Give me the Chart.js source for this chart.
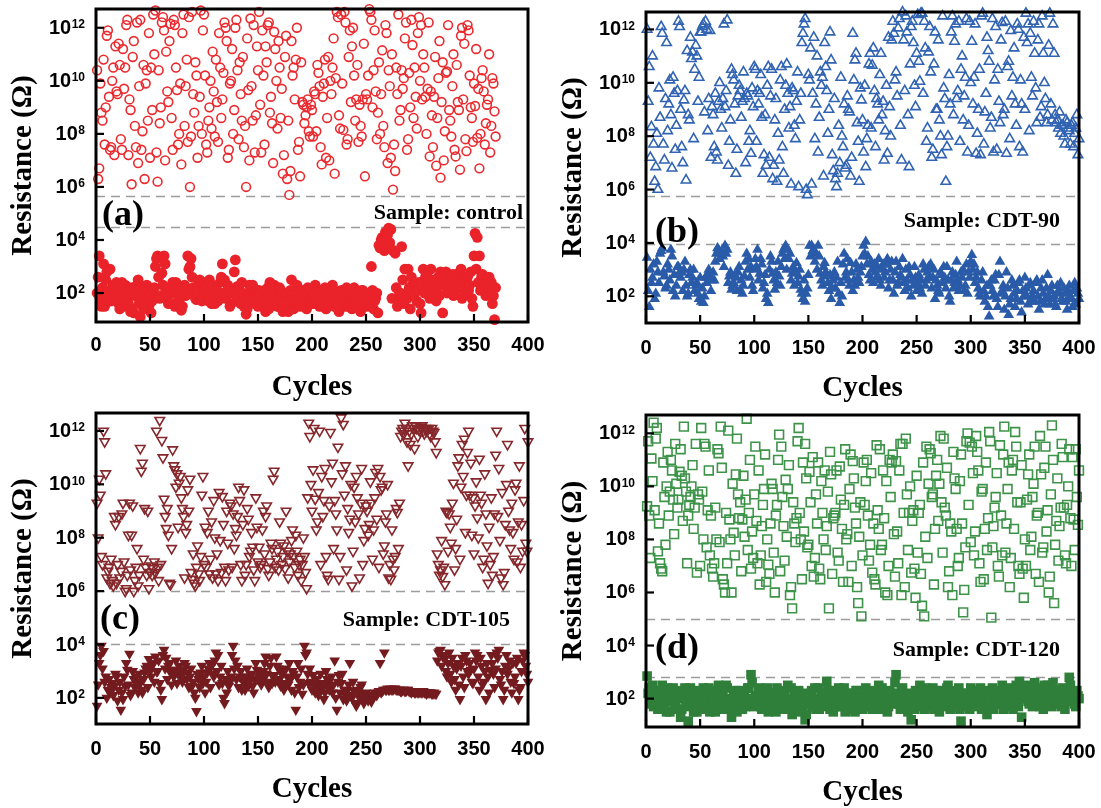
<!DOCTYPE html>
<html>
<head>
<meta charset="utf-8">
<script src="https://cdn.jsdelivr.net/npm/chart.js@4.4.1/dist/chart.umd.min.js"></script>
<style>
  html, body { margin: 0; padding: 0; background: #fff; }
  #wrap { position: relative; width: 1101px; height: 808px; }
  canvas { position: absolute; }
</style>
</head>
<body>
<div id="wrap">
  <canvas id="pa" width="550" height="404" style="left:0;top:0"></canvas>
  <canvas id="pb" width="550" height="404" style="left:551px;top:0"></canvas>
  <canvas id="pc" width="550" height="404" style="left:0;top:404px"></canvas>
  <canvas id="pd" width="550" height="404" style="left:551px;top:404px"></canvas>
</div>
<script>
/* Resistencia HRS / LRS frente a ciclos, cuatro muestras */
const cycleTicks = [0, 50, 100, 150, 200, 250, 300, 350, 400];
const decadeTicks = [2, 4, 6, 8, 10, 12];

// log10(R): ciclos impares (1, 3, 5, ...) y pares (2, 4, 6, ...)
const hrsControlOdd = [
  10.4, 6.7, 8.8, 10.8, 9.0, 11.9, 7.4, 10.0, 7.2, 9.6, 11.4, 7.8, 11.2, 10.5, 12.3, 9.3, 6.1, 11.5, 7.5, 6.9, 12.3, 8.1, 6.3, 10.4, 11.8,
  10.5, 12.5, 12.65, 6.2, 8.4, 12.2, 11.9, 11.1, 9.2, 12.15, 7.4, 12.1, 9.65, 8.0, 6.85, 12.5, 9.8, 7.7, 6.0, 12.6, 8.8, 10.2, 8.3, 12.65, 11.9,
  10.2, 7.3, 9.0, 8.2, 9.6, 10.8, 7.7, 10.5, 9.3, 12.2, 11.5, 7.4, 10.0, 8.0, 12.0, 10.4, 10.7, 8.5, 7.5, 6.0, 9.65, 12.35, 8.5, 7.3, 11.3,
  12.6, 7.3, 10.2, 11.3, 12.1, 8.8, 8.4, 11.85, 10.0, 11.5, 8.6, 6.5, 10.9, 6.3, 5.7, 11.5, 10.5, 10.8, 7.4, 6.4, 9.2, 8.4, 9.0, 8.1, 9.1,
  7.9, 9.5, 10.6, 9.8, 6.85, 9.9, 7.1, 10.9, 10.0, 10.5, 6.5, 12.6, 8.7, 12.5, 8.15, 12.2, 7.8, 11.9, 11.3, 10.2, 9.3, 7.7, 8.3, 9.3, 6.4,
  9.3, 12.7, 12.3, 10.4, 9.6, 8.8, 8.0, 11.15, 7.5, 11.8, 10.4, 7.1, 5.9, 6.6, 9.5, 8.5, 10.4, 10.1, 12.2, 7.8, 9.0, 11.35, 10.5, 8.2, 12.4,
  12.1, 11.0, 9.4, 9.7, 7.15, 8.7, 9.4, 6.8, 10.1, 6.35, 10.7, 8.1, 10.35, 8.9, 7.9, 11.0, 7.15, 9.2, 6.65, 12.0, 11.4, 7.35, 11.9, 9.0, 7.7,
  9.05, 7.85, 6.7, 10.1, 9.6, 8.4, 9.3, 7.3, 10.1, 8.85,
];
const hrsControlEven = [
  6.3, 9.9, 8.5, 7.6, 11.7, 9.4, 7.5, 10.5, 11.3, 9.5, 10.6, 7.4, 9.7, 12.1, 7.2, 8.9, 10.9, 8.3, 12.2, 9.8, 7.4, 10.6, 9.9, 8.5, 7.1,
  8.9, 11.0, 7.3, 10.4, 9.0, 12.4, 7.0, 9.6, 11.5, 8.6, 12.3, 10.5, 7.6, 9.9, 11.8, 8.3, 10.8, 12.4, 7.9, 9.5, 10.7, 7.1, 9.4, 8.0, 12.5,
  7.6, 8.5, 10.0, 11.1, 7.9, 9.2, 11.8, 8.6, 10.3, 12.0, 7.1, 9.9, 11.2, 8.9, 12.3, 7.8, 9.5, 10.9, 8.3, 11.6, 7.0, 9.8, 12.1, 8.7, 10.4,
  9.1, 11.9, 7.6, 10.7, 12.2, 9.4, 6.9, 11.2, 8.2, 10.5, 9.7, 7.2, 11.7, 8.5, 6.6, 10.2, 9.3, 12.0, 7.7, 10.7, 9.1, 8.7, 9.3, 7.9, 8.9,
  9.6, 8.1, 10.3, 7.5, 9.4, 10.8, 8.6, 7.0, 9.5, 11.6, 10.1, 12.4, 8.2, 9.9, 12.6, 7.6, 10.9, 9.2, 12.0, 8.5, 10.6, 9.1, 7.9, 11.4, 9.5,
  10.2, 12.6, 9.0, 11.9, 7.8, 10.7, 9.5, 8.3, 12.1, 6.9, 9.8, 11.0, 7.6, 10.5, 12.5, 8.9, 9.7, 11.6, 7.4, 10.3, 12.3, 8.6, 9.4, 11.8, 10.0,
  9.3, 10.5, 8.0, 12.2, 9.6, 7.5, 10.9, 8.6, 11.5, 9.2, 7.0, 10.3, 12.1, 8.5, 9.8, 7.4, 10.6, 8.9, 11.7, 9.3, 7.8, 12.1, 10.2, 8.6, 9.9,
  11.2, 9.7, 8.0, 10.4, 7.6, 9.1, 11.0, 8.3, 9.9, 7.9,
];
const lrsControlOdd = [
  2.0, 3.4, 1.5, 3.1, 2.5, 1.75, 2.9, 2.2, 1.9, 2.4, 1.6, 2.0, 1.5, 2.3, 1.8, 2.2, 1.4, 1.25, 1.9, 2.5, 1.1, 2.1, 1.7, 2.3, 1.5,
  1.25, 2.0, 3.0, 3.4, 1.8, 2.75, 3.4, 2.1, 1.6, 2.0, 2.4, 1.5, 2.2, 1.7, 1.35, 2.1, 1.9, 3.4, 3.0, 2.6, 2.1, 1.75, 2.3, 1.9, 2.4,
  1.8, 2.0, 2.5, 1.6, 1.9, 2.2, 1.7, 2.4, 3.1, 2.5, 1.9, 2.2, 1.6, 2.0, 3.25, 2.25, 1.7, 2.4, 1.5, 1.2, 2.0, 1.8, 2.3, 1.6, 2.1,
  2.1, 1.8, 1.5, 1.3, 2.2, 2.4, 1.6, 2.3, 1.9, 1.5, 2.1, 1.3, 1.8, 2.0, 1.6, 2.5, 1.4, 1.9, 2.2, 1.5, 1.7, 2.1, 1.4, 1.8, 2.0,
  1.6, 2.3, 1.9, 1.5, 2.1, 1.7, 1.4, 2.0, 1.8, 2.3, 1.5, 1.9, 1.3, 2.1, 1.7, 1.5, 2.0, 1.8, 1.4, 2.2, 1.6, 1.9, 1.3, 2.1, 1.7,
  1.5, 2.0, 3.0, 1.4, 1.8, 1.25, 3.7, 4.1, 3.6, 4.25, 4.45, 4.4, 3.6, 3.5, 1.5, 2.0, 3.75, 1.6, 1.9, 2.9, 1.4, 2.3, 2.0, 1.7, 2.4,
  1.25, 2.9, 2.6, 2.1, 1.8, 2.5, 2.3, 1.7, 2.6, 2.8, 1.25, 2.4, 2.0, 2.6, 2.2, 1.9, 2.7, 2.3, 2.5, 1.8, 2.6, 2.3, 2.1, 2.8, 1.5,
  4.25, 4.1, 3.4, 2.6, 2.3, 1.9, 2.5, 2.2, 1.6, 1.0,
];
const lrsControlEven = [
  2.6, 1.8, 2.2, 1.5, 2.8, 2.0, 1.7, 2.3, 1.9, 2.1, 1.4, 2.4, 1.8, 2.0, 1.6, 1.3, 2.2, 1.9, 2.3, 1.6, 2.0, 1.4, 2.2, 1.8, 2.0,
  1.7, 2.2, 3.3, 2.6, 1.9, 2.3, 3.1, 1.8, 2.2, 1.6, 2.0, 2.4, 1.9, 2.1, 1.5, 2.3, 2.0, 2.9, 3.3, 2.2, 1.8, 2.0, 2.5, 1.7, 2.1,
  2.2, 1.7, 2.0, 2.3, 1.6, 2.1, 1.9, 2.6, 2.0, 1.8, 2.3, 1.5, 2.1, 2.8, 1.9, 2.2, 1.6, 2.0, 1.8, 1.4, 2.3, 1.7, 2.0, 1.9, 1.5,
  1.9, 1.6, 2.1, 1.8, 1.4, 2.0, 2.3, 1.7, 1.5, 2.2, 1.8, 1.6, 2.0, 1.3, 2.1, 1.9, 1.7, 2.3, 1.6, 1.9, 2.0, 1.5, 2.2, 1.7, 1.6,
  1.9, 1.7, 2.0, 1.8, 1.5, 2.2, 1.9, 1.6, 2.1, 1.7, 1.9, 1.4, 2.0, 1.8, 1.6, 2.2, 1.5, 1.9, 1.7, 2.0, 1.8, 1.5, 2.1, 1.9, 1.6,
  1.8, 1.6, 2.1, 1.7, 2.0, 3.8, 4.0, 3.65, 4.3, 4.2, 3.9, 1.8, 3.6, 2.2, 1.7, 2.0, 2.5, 2.9, 1.8, 2.2, 2.6, 1.9, 2.3, 2.1, 1.6,
  2.3, 2.0, 2.7, 2.4, 2.9, 2.1, 2.5, 2.2, 1.9, 2.6, 2.3, 2.8, 2.1, 2.4, 2.7, 2.0, 2.5, 2.2, 2.9, 2.4, 2.0, 2.6, 2.3, 1.8, 3.4,
  2.9, 2.4, 2.1, 2.7, 2.3, 2.0, 2.6, 2.4, 1.9, 2.2,
];

const hrsCdt90Odd = [
  12.0, 10.6, 8.35, 7.7, 6.85, 6.0, 8.7, 11.85, 7.1, 11.5, 9.2, 8.8, 10.2, 7.5, 9.7, 12.1, 7.6, 9.35, 6.35, 8.8, 11.7, 11.15, 10.5, 11.0, 10.2,
  11.9, 12.2, 12.3, 8.2, 11.95, 9.1, 7.6, 7.4, 9.3, 9.0, 9.4, 9.1, 12.35, 7.8, 10.5, 10.1, 6.6, 9.5, 9.7, 9.3, 9.4, 9.6, 7.8, 7.35, 9.1,
  10.5, 9.7, 9.6, 8.7, 7.3, 6.9, 10.6, 9.5, 6.4, 8.6, 6.3, 7.1, 10.6, 6.6, 9.9, 9.6, 9.1, 9.8, 8.4, 9.3, 6.1, 9.6, 11.85, 12.4, 5.8,
  10.1, 6.2, 11.7, 9.2, 7.4, 10.4, 10.2, 11.5, 9.7, 9.0, 10.85, 6.7, 6.4, 6.6, 7.0, 8.0, 9.2, 6.9, 9.0, 6.5, 11.85, 10.85, 8.5, 6.3, 9.35,
  7.4, 6.85, 8.4, 11.1, 10.65, 9.7, 9.4, 8.6, 11.1, 9.3, 8.2, 7.35, 9.1, 11.6, 11.85, 10.4, 12.05, 8.4, 12.65, 9.7, 11.9, 6.85, 12.1, 11.5, 9.1,
  12.55, 10.05, 12.6, 12.3, 7.8, 11.15, 10.4, 7.5, 11.9, 9.0, 8.6, 7.3, 9.8, 6.3, 8.0, 9.2, 12.5, 11.55, 9.4, 12.3, 10.5, 8.6, 10.2, 7.4, 12.3,
  11.55, 10.2, 7.35, 9.0, 7.3, 12.6, 8.9, 11.7, 10.8, 8.7, 7.4, 12.1, 10.5, 8.5, 12.25, 9.0, 7.35, 10.8, 11.95, 10.2, 9.2, 12.2, 7.6, 9.2, 11.7,
  12.6, 12.2, 11.85, 9.5, 11.1, 8.5, 12.2, 9.1, 11.1, 9.4, 8.8, 12.6, 8.6, 11.1, 8.5, 8.3, 8.1, 8.4, 7.7, 8.5, 8.2, 8.4, 7.6, 8.3, 7.3,
];
const hrsCdt90Even = [
  9.3, 7.2, 11.0, 6.3, 8.1, 9.8, 12.1, 7.7, 9.4, 8.2, 10.1, 6.8, 9.6, 8.4, 12.3, 9.0, 7.0, 9.7, 11.2, 8.6, 10.9, 7.9, 11.4, 9.3, 11.9,
  12.1, 8.9, 12.0, 9.4, 7.2, 8.8, 9.6, 7.1, 10.0, 8.3, 12.2, 9.7, 6.9, 8.6, 10.3, 9.2, 7.5, 9.9, 8.7, 10.4, 7.0, 9.5, 8.2, 9.8, 10.6,
  7.8, 9.2, 10.3, 6.6, 8.8, 9.9, 7.2, 10.5, 6.9, 9.4, 8.1, 10.1, 7.6, 9.0, 10.7, 8.3, 6.2, 9.7, 7.9, 10.4, 8.6, 11.5, 12.2, 6.0, 10.3,
  11.3, 9.6, 7.9, 11.0, 8.7, 9.9, 6.5, 10.6, 8.1, 11.9, 7.3, 9.4, 6.1, 8.4, 10.2, 7.6, 6.8, 9.5, 8.9, 7.2, 10.1, 11.1, 7.8, 9.8, 8.6,
  9.9, 7.9, 10.7, 8.3, 11.3, 7.6, 9.2, 10.3, 8.8, 7.1, 9.9, 11.7, 8.0, 12.3, 10.1, 9.5, 12.4, 7.1, 11.6, 12.5, 8.8, 10.7, 12.3, 9.9, 11.1,
  10.8, 12.6, 9.6, 11.3, 8.3, 12.1, 7.2, 10.7, 9.0, 11.6, 8.0, 12.5, 9.4, 7.6, 10.3, 11.9, 8.8, 12.2, 9.7, 7.8, 11.0, 9.5, 12.4, 8.4, 10.0,
  9.2, 12.2, 8.1, 10.5, 12.5, 7.7, 9.6, 11.2, 8.3, 12.4, 10.1, 7.5, 9.3, 11.6, 8.8, 12.3, 10.6, 7.9, 9.5, 11.3, 8.4, 12.0, 10.1, 7.4, 9.0,
  11.5, 8.2, 10.2, 12.3, 9.8, 11.6, 8.7, 12.5, 10.0, 8.5, 11.4, 9.2, 12.2, 8.8, 8.6, 8.9, 8.4, 8.0, 8.6, 8.3, 7.7, 8.5, 8.1, 8.8, 7.9,
];
const lrsCdt90Odd = [
  3.45, 1.6, 2.5, 3.2, 2.1, 2.9, 3.6, 3.8, 2.75, 2.4, 3.0, 3.75, 2.2, 2.0, 3.1, 2.9, 2.9, 3.0, 2.4, 2.1, 3.0, 2.7, 2.2, 2.5, 1.9,
  1.8, 1.75, 2.7, 2.85, 2.7, 2.6, 2.6, 3.6, 3.75, 3.6, 3.5, 3.9, 3.75, 2.75, 2.25, 2.5, 2.7, 2.9, 2.25, 2.1, 2.75, 3.6, 3.4, 3.1, 2.2,
  3.4, 3.75, 2.85, 3.2, 2.5, 1.9, 1.75, 3.5, 2.85, 2.25, 2.5, 2.75, 3.1, 3.75, 3.9, 3.75, 3.6, 2.85, 2.4, 3.25, 2.75, 2.25, 1.9, 1.8, 2.3,
  3.9, 3.9, 3.75, 3.6, 3.9, 2.85, 2.4, 3.25, 2.75, 2.2, 1.9, 2.6, 2.3, 3.3, 1.75, 2.0, 3.6, 2.9, 2.6, 3.25, 2.2, 2.4, 3.0, 2.5, 3.1,
  3.9, 4.05, 3.5, 2.6, 3.0, 3.2, 2.7, 3.4, 2.4, 3.2, 2.9, 3.4, 2.6, 3.3, 2.1, 3.3, 2.5, 2.8, 3.4, 2.2, 2.6, 3.1, 2.0, 2.4, 2.7,
  2.5, 2.3, 2.1, 3.0, 2.6, 3.1, 3.2, 2.7, 1.9, 2.4, 2.1, 2.8, 3.1, 2.3, 2.6, 1.8, 2.9, 2.5, 3.3, 2.2, 2.9, 3.0, 2.4, 2.1, 2.7,
  3.55, 3.2, 2.7, 2.3, 2.0, 2.9, 1.8, 2.4, 1.25, 2.6, 2.0, 2.8, 1.6, 3.3, 2.2, 1.5, 2.9, 1.3, 1.9, 2.4, 1.6, 2.2, 2.6, 1.4, 2.0,
  2.3, 1.7, 2.5, 2.0, 1.8, 2.6, 1.5, 2.3, 2.1, 1.9, 2.8, 1.7, 2.4, 2.0, 1.6, 2.2, 2.5, 1.8, 2.1, 1.5, 2.4, 1.9, 2.2, 1.7, 2.1,
];
const lrsCdt90Even = [
  2.2, 3.0, 2.7, 1.9, 3.3, 2.5, 3.7, 2.9, 2.3, 3.2, 2.6, 3.5, 2.8, 2.4, 3.1, 2.7, 2.2, 3.3, 2.0, 2.8, 2.5, 3.0, 2.4, 2.1, 2.7,
  2.3, 2.0, 2.5, 3.0, 2.2, 2.9, 3.3, 3.8, 3.4, 3.7, 3.1, 3.6, 2.5, 2.9, 2.4, 2.8, 2.2, 3.1, 2.6, 2.4, 3.3, 3.0, 2.7, 2.4, 3.0,
  3.1, 2.6, 3.4, 2.3, 2.8, 2.1, 3.0, 3.3, 2.6, 2.9, 3.3, 2.4, 3.6, 3.4, 3.0, 3.4, 2.6, 3.1, 2.9, 2.5, 3.0, 2.1, 2.6, 2.1, 2.8,
  3.5, 3.7, 3.3, 3.0, 3.5, 2.6, 3.1, 2.9, 2.5, 2.8, 2.3, 2.9, 2.7, 2.1, 2.5, 3.2, 2.7, 3.4, 2.4, 2.9, 2.6, 3.2, 2.7, 2.9, 3.5,
  3.6, 3.2, 2.8, 3.3, 2.5, 2.9, 3.1, 2.6, 3.0, 2.7, 3.2, 2.3, 3.0, 2.6, 2.9, 2.4, 3.1, 2.7, 2.5, 3.0, 2.3, 2.8, 2.6, 3.1, 2.2,
  2.8, 2.6, 3.2, 2.4, 2.9, 2.7, 2.3, 3.0, 2.6, 2.2, 2.9, 2.5, 2.7, 3.1, 2.0, 2.6, 2.3, 2.8, 2.6, 2.4, 2.7, 2.2, 3.2, 2.9, 3.3,
  3.0, 2.5, 2.9, 2.1, 2.6, 2.2, 2.0, 1.6, 2.4, 2.2, 2.6, 1.9, 2.8, 2.1, 2.4, 2.0, 2.3, 1.7, 2.6, 2.1, 1.9, 2.5, 1.8, 2.2, 2.7,
  2.0, 2.4, 1.8, 2.2, 2.5, 2.0, 1.8, 2.6, 1.7, 2.3, 2.0, 2.2, 1.9, 1.7, 2.4, 2.1, 1.9, 2.3, 1.8, 2.2, 2.0, 1.6, 2.5, 2.3, 1.9,
];

const hrsCdt105Odd = [
  9.3, 10.2, 7.3, 12.0, 10.4, 6.75, 6.3, 6.4, 8.8, 6.3, 8.8, 6.75, 9.3, 6.0, 6.6, 9.3, 8.1, 6.0, 6.9, 6.2, 11.35, 10.8, 9.1, 6.6, 6.1,
  6.95, 6.85, 6.7, 6.9, 12.4, 11.65, 9.45, 8.35, 8.1, 6.25, 11.3, 10.55, 10.4, 10.05, 9.5, 8.8, 8.2, 9.8, 10.2, 6.45, 6.3, 6.9, 6.65, 7.3, 10.3,
  8.4, 8.2, 6.65, 8.6, 9.4, 6.65, 6.4, 7.9, 9.55, 6.9, 9.0, 6.8, 9.2, 8.9, 8.35, 8.8, 9.4, 6.4, 9.8, 7.0, 8.7, 7.5, 7.65, 6.4, 8.4,
  7.65, 7.0, 9.0, 8.8, 6.85, 7.1, 7.6, 10.5, 7.2, 6.8, 7.8, 7.3, 6.85, 7.5, 7.1, 7.9, 7.3, 8.1, 6.6, 7.2, 7.0, 7.3, 6.1, 12.3, 10.0,
  10.55, 9.45, 8.6, 12.0, 10.3, 9.4, 7.3, 6.45, 11.95, 10.8, 9.4, 8.3, 6.45, 12.5, 12.25, 10.7, 9.1, 8.7, 6.2, 9.9, 10.3, 8.9, 9.3, 7.0, 8.35,
  9.0, 8.5, 9.3, 8.3, 10.45, 10.6, 10.3, 9.9, 7.7, 8.9, 6.5, 6.45, 7.2, 7.3, 8.95, 9.3, 12.0, 11.9, 12.1, 10.7, 11.5, 12.2, 11.35, 12.1, 12.05,
  12.15, 12.0, 12.1, 12.05, 11.9, 12.1, 11.95, 11.2, 7.0, 6.8, 6.55, 6.25, 8.95, 8.9, 7.8, 10.05, 7.6, 10.7, 7.2, 11.5, 11.7, 9.6, 12.0, 10.8, 9.5,
  9.2, 8.75, 10.95, 9.3, 7.2, 8.9, 6.3, 7.0, 6.6, 8.9, 12.0, 10.6, 6.5, 6.25, 8.5, 11.5, 8.3, 9.3, 7.2, 10.05, 8.6, 6.9, 7.5, 12.1, 7.5,
];
const hrsCdt105Even = [
  8.0, 9.6, 7.0, 11.6, 6.5, 6.9, 7.2, 6.2, 8.5, 7.0, 6.5, 8.9, 7.1, 6.1, 8.1, 6.8, 9.2, 6.4, 7.6, 6.6, 10.5, 7.2, 6.9, 9.0, 6.7,
  6.6, 7.1, 12.0, 6.4, 7.0, 11.0, 8.8, 9.1, 6.3, 7.6, 10.7, 9.9, 8.4, 10.3, 9.1, 6.5, 8.5, 9.0, 6.7, 7.4, 6.2, 7.7, 6.4, 9.6, 7.0,
  6.9, 9.0, 7.2, 6.5, 8.0, 7.4, 9.7, 6.7, 8.5, 6.4, 7.8, 9.3, 6.9, 7.6, 8.1, 9.9, 7.0, 8.5, 6.6, 9.1, 7.3, 8.2, 6.8, 9.5, 7.1,
  6.9, 8.3, 7.4, 9.2, 6.6, 7.8, 10.2, 6.9, 7.5, 8.6, 7.0, 7.7, 9.0, 6.5, 7.4, 8.3, 6.9, 7.5, 7.0, 6.4, 8.0, 6.7, 9.5, 11.8, 9.0,
  12.1, 8.3, 9.7, 7.0, 8.8, 10.6, 6.6, 9.2, 10.1, 7.6, 8.9, 11.4, 7.3, 10.4, 9.6, 6.8, 8.2, 10.0, 7.5, 8.6, 9.5, 6.5, 10.6, 7.9, 9.2,
  8.1, 10.1, 7.2, 9.5, 8.7, 6.9, 9.8, 7.4, 8.6, 10.0, 7.0, 8.3, 6.8, 9.1, 7.6, 11.8, 12.1, 12.3, 11.6, 12.0, 11.9, 12.1, 12.2, 11.8, 12.0,
  12.2, 11.9, 12.0, 12.1, 11.8, 12.0, 11.6, 7.4, 6.6, 7.9, 6.9, 9.0, 7.5, 8.4, 9.3, 6.8, 8.7, 11.0, 9.9, 10.3, 8.2, 11.2, 9.6, 8.1, 7.4,
  10.1, 8.0, 9.6, 6.9, 10.4, 7.7, 8.4, 9.5, 7.3, 11.1, 8.8, 7.9, 9.7, 6.7, 10.0, 9.0, 7.6, 8.2, 9.8, 7.1, 10.7, 8.5, 9.4, 7.8, 11.6,
];
const lrsCdt105Odd = [
  1.7, 3.3, 3.95, 3.75, 2.8, 2.3, 2.2, 2.55, 2.45, 2.8, 2.3, 1.55, 1.95, 2.45, 3.05, 3.65, 2.2, 2.7, 2.8, 2.2, 2.55, 2.2, 2.95, 3.2, 3.45,
  2.8, 3.3, 3.55, 3.0, 2.55, 1.95, 3.8, 3.5, 3.2, 2.95, 3.05, 3.05, 2.55, 3.2, 2.8, 3.05, 3.2, 2.95, 2.8, 2.45, 2.2, 1.5, 2.7, 2.95, 2.55,
  2.2, 2.95, 3.3, 3.2, 2.8, 3.7, 3.6, 2.8, 2.55, 1.8, 2.2, 2.45, 2.8, 3.95, 3.4, 3.2, 2.8, 2.3, 2.55, 2.8, 2.45, 2.8, 2.45, 2.7, 3.05,
  2.8, 2.5, 3.0, 3.55, 2.6, 3.2, 2.55, 2.85, 3.55, 3.1, 2.45, 3.0, 2.55, 2.8, 3.3, 2.3, 2.9, 1.55, 3.3, 2.6, 2.15, 3.95, 3.7, 2.55, 2.6,
  2.85, 2.2, 2.45, 2.3, 2.55, 1.95, 3.0, 2.55, 2.4, 2.2, 3.4, 1.55, 2.85, 2.55, 1.95, 2.1, 2.3, 3.3, 2.0, 2.25, 1.7, 2.2, 2.4, 2.0, 2.1,
  2.05, 2.0, 1.85, 2.1, 2.15, 2.2, 3.3, 2.25, 3.7, 2.3, 2.3, 2.35, 2.3, 2.35, 2.3, 2.3, 2.25, 2.3, 2.25, 2.3, 2.25, 2.25, 2.2, 2.25, 2.2,
  2.2, 2.25, 2.2, 2.2, 2.2, 2.15, 2.2, 2.15, 3.7, 3.8, 3.55, 3.45, 2.8, 3.7, 2.6, 3.2, 2.3, 3.3, 1.95, 3.5, 2.4, 3.4, 2.9, 3.05, 2.55,
  3.7, 3.6, 2.3, 3.2, 2.6, 1.95, 2.8, 3.05, 3.3, 2.4, 3.7, 3.8, 2.5, 1.95, 3.2, 2.9, 3.4, 2.2, 2.55, 3.3, 1.95, 2.4, 3.4, 3.6, 2.9,
];
const lrsCdt105Even = [
  2.5, 3.6, 3.1, 2.6, 2.0, 2.7, 2.4, 2.1, 2.9, 1.9, 2.6, 2.2, 2.8, 3.3, 2.5, 2.1, 3.0, 2.4, 2.6, 2.9, 2.3, 2.7, 3.1, 2.4, 3.0,
  3.2, 2.6, 3.0, 3.4, 2.3, 3.6, 3.1, 2.7, 3.3, 2.5, 2.8, 3.4, 2.9, 3.0, 2.6, 3.3, 2.7, 2.4, 3.1, 2.6, 2.0, 2.9, 2.4, 3.2, 2.8,
  2.6, 3.1, 2.4, 2.9, 3.4, 3.0, 2.5, 3.2, 2.0, 2.7, 3.0, 2.6, 3.6, 3.1, 2.7, 2.4, 3.0, 2.7, 2.3, 3.1, 2.6, 2.9, 2.2, 3.3, 2.7,
  3.0, 2.7, 3.3, 2.9, 2.4, 3.5, 2.8, 2.6, 3.2, 2.7, 2.9, 2.3, 3.1, 2.5, 2.7, 3.0, 2.2, 2.8, 2.4, 3.1, 2.5, 3.6, 2.9, 3.1, 2.3,
  2.5, 2.7, 2.1, 2.9, 2.4, 2.2, 2.7, 2.3, 2.8, 2.5, 2.0, 2.6, 2.2, 2.9, 2.3, 1.9, 2.5, 2.1, 2.6, 1.8, 2.3, 2.0, 2.5, 1.8, 2.2,
  1.9, 2.1, 2.0, 2.2, 2.1, 2.25, 2.2, 2.3, 2.3, 2.35, 2.3, 2.3, 2.35, 2.3, 2.3, 2.25, 2.3, 2.25, 2.3, 2.25, 2.2, 2.25, 2.2, 2.2, 2.25,
  2.2, 2.2, 2.15, 2.2, 2.2, 2.15, 2.15, 3.4, 3.75, 3.2, 3.6, 3.0, 3.3, 2.9, 3.5, 2.7, 3.1, 2.5, 3.2, 2.8, 3.6, 3.0, 3.3, 2.6, 3.1,
  3.4, 2.8, 3.5, 2.5, 3.0, 3.3, 2.2, 3.6, 2.9, 3.1, 3.5, 2.7, 3.0, 2.3, 3.6, 3.1, 2.6, 3.3, 2.8, 3.5, 2.3, 3.0, 3.7, 3.2, 2.6,
];

const hrsCdt120Odd = [
  9.25, 8.9, 11.05, 12.4, 11.8, 7.55, 7.1, 6.8, 9.6, 10.0, 8.9, 11.0, 9.5, 11.6, 9.2, 10.55, 10.4, 12.25, 9.8, 8.9, 9.6, 10.8, 9.2, 6.75, 9.5,
  12.2, 8.0, 11.5, 9.1, 7.4, 6.9, 7.1, 8.0, 11.25, 12.25, 6.5, 6.0, 7.1, 8.75, 6.0, 8.25, 10.45, 9.7, 9.4, 8.75, 8.1, 12.55, 9.0, 6.9, 7.3,
  11.5, 7.1, 6.3, 8.5, 9.9, 6.4, 7.05, 8.6, 9.9, 6.0, 9.3, 11.95, 11.5, 8.5, 10.25, 9.9, 5.9, 5.4, 8.6, 8.8, 12.2, 8.0, 10.9, 11.6, 7.7,
  10.55, 7.0, 6.6, 9.7, 10.9, 6.5, 9.0, 10.6, 8.5, 5.4, 10.45, 8.8, 9.0, 7.5, 10.75, 8.4, 9.3, 8.0, 6.4, 11.2, 10.95, 9.2, 6.2, 8.1, 5.1,
  10.9, 10.2, 8.9, 7.8, 6.75, 6.5, 11.55, 8.4, 7.6, 10.6, 6.0, 5.9, 11.0, 10.9, 8.2, 10.95, 7.1, 11.6, 11.6, 6.2, 9.7, 9.0, 6.75, 9.1, 5.8,
  7.5, 9.3, 5.5, 5.1, 11.5, 10.1, 11.25, 9.7, 8.4, 11.0, 10.1, 9.4, 11.8, 8.9, 6.2, 8.6, 5.9, 10.3, 8.4, 7.3, 11.2, 5.25, 7.7, 12.0, 11.65,
  11.5, 7.4, 11.9, 10.6, 6.4, 9.9, 8.4, 7.6, 12.05, 5.05, 8.5, 9.6, 7.0, 11.55, 7.4, 12.25, 8.6, 10.9, 7.3, 11.0, 12.05, 9.4, 6.7, 10.8, 5.8,
  7.0, 10.45, 7.6, 9.6, 11.5, 8.9, 6.4, 10.45, 7.7, 11.5, 9.1, 6.6, 12.3, 5.6, 8.7, 7.2, 9.2, 11.1, 7.4, 9.3, 11.4, 7.0, 8.75, 11.4, 8.55,
];
const hrsCdt120Even = [
  11.7, 7.3, 10.2, 9.1, 12.2, 8.6, 6.9, 10.9, 7.8, 11.3, 9.8, 10.6, 8.2, 10.1, 9.5, 11.4, 8.7, 10.3, 7.1, 9.3, 10.0, 8.4, 11.6, 9.7, 7.0,
  9.8, 11.6, 7.7, 10.6, 8.9, 6.6, 9.2, 11.4, 7.9, 10.7, 6.3, 9.0, 12.1, 8.0, 10.1, 7.4, 11.8, 8.8, 6.8, 10.4, 9.5, 7.6, 11.0, 8.3, 9.7,
  8.7, 10.6, 7.4, 9.3, 11.2, 8.0, 6.7, 10.1, 7.5, 8.9, 11.0, 6.8, 9.6, 7.2, 8.1, 10.8, 6.2, 9.4, 7.9, 11.7, 9.0, 6.5, 8.3, 10.3, 7.8,
  9.4, 11.1, 7.3, 8.6, 6.9, 10.2, 8.0, 7.6, 9.8, 11.3, 6.7, 8.9, 10.6, 7.2, 9.5, 6.4, 11.4, 8.2, 9.9, 7.0, 10.3, 8.6, 5.6, 9.4, 7.4,
  9.3, 11.0, 7.2, 10.5, 8.6, 6.3, 9.1, 11.4, 7.8, 8.8, 10.2, 7.0, 9.6, 11.2, 6.6, 8.3, 10.6, 5.9, 9.0, 11.8, 7.6, 10.0, 8.7, 6.9, 10.4,
  9.0, 6.7, 10.9, 8.1, 7.3, 11.4, 9.6, 6.3, 10.4, 8.7, 11.9, 7.5, 9.2, 10.7, 6.8, 8.3, 11.3, 9.9, 7.0, 10.2, 8.6, 6.1, 11.7, 9.3, 7.9,
  10.5, 8.3, 11.3, 7.1, 9.8, 6.5, 10.9, 8.8, 11.7, 7.7, 9.2, 10.5, 6.6, 8.9, 11.2, 7.5, 9.9, 6.2, 10.6, 8.4, 11.5, 7.0, 9.4, 6.9, 8.0,
  9.5, 11.2, 8.1, 10.1, 6.7, 9.0, 11.9, 7.5, 10.7, 8.3, 6.0, 9.7, 11.0, 7.8, 10.3, 8.5, 11.6, 9.2, 7.1, 10.0, 8.8, 11.1, 7.6, 9.6, 10.6,
];
const lrsCdt120Odd = [
  2.85, 2.4, 2.1, 1.7, 2.3, 1.6, 2.0, 2.5, 1.8, 1.5, 2.2, 1.9, 2.4, 1.7, 2.0, 2.3, 1.6, 2.1, 1.9, 1.15, 2.4, 1.8, 2.0, 1.5, 2.2,
  1.9, 2.4, 1.7, 2.1, 1.5, 2.3, 1.8, 2.0, 2.5, 1.6, 2.2, 1.9, 2.4, 1.7, 1.3, 2.1, 2.3, 1.8, 2.0, 1.6, 2.2, 1.9, 2.4, 2.9, 1.7,
  2.1, 1.8, 2.4, 1.6, 2.0, 2.3, 1.5, 2.2, 1.9, 1.7, 2.4, 2.0, 1.6, 2.2, 1.8, 2.5, 1.9, 1.4, 2.1, 1.7, 2.3, 1.9, 1.6, 1.2, 2.2,
  1.8, 2.3, 2.0, 1.6, 2.4, 1.9, 1.7, 2.2, 2.65, 1.8, 2.0, 1.5, 2.3, 1.9, 2.1, 1.7, 2.4, 1.6, 2.0, 1.8, 2.2, 1.5, 2.3, 1.9, 2.1,
  1.7, 2.4, 1.9, 2.0, 1.6, 2.2, 1.8, 2.5, 1.7, 2.1, 1.9, 1.5, 2.3, 1.8, 2.0, 2.9, 2.2, 1.6, 2.4, 1.9, 2.1, 1.7, 1.2, 2.0, 2.3,
  1.8, 2.5, 1.9, 1.6, 2.2, 2.0, 1.7, 2.4, 1.9, 2.1, 1.5, 2.3, 1.8, 2.0, 2.5, 1.6, 2.2, 1.9, 1.7, 2.4, 1.15, 2.0, 1.8, 2.2, 1.6,
  2.3, 1.9, 2.1, 1.7, 2.4, 1.8, 2.0, 1.4, 2.2, 1.9, 1.6, 2.3, 2.0, 1.8, 2.5, 1.7, 2.1, 1.9, 2.4, 1.6, 2.2, 1.8, 2.65, 1.3, 2.0,
  2.5, 1.9, 2.2, 1.7, 2.6, 1.8, 2.0, 2.4, 1.6, 2.1, 2.5, 1.9, 1.7, 2.3, 2.0, 1.8, 2.2, 2.4, 1.6, 2.0, 2.8, 1.9, 2.2, 1.7, 2.1,
];
const lrsCdt120Even = [
  2.2, 1.8, 2.5, 1.9, 2.1, 1.6, 2.3, 1.7, 2.0, 2.4, 1.5, 2.2, 1.8, 2.1, 1.6, 1.3, 2.0, 2.4, 1.7, 2.2, 1.9, 1.5, 2.3, 1.8, 2.1,
  1.6, 2.2, 1.9, 2.4, 1.7, 2.0, 1.5, 2.3, 1.8, 2.1, 1.9, 2.5, 1.6, 2.0, 1.8, 2.2, 1.5, 2.3, 1.9, 2.1, 1.7, 2.4, 2.0, 2.6, 1.9,
  1.9, 2.3, 1.7, 2.1, 1.8, 2.4, 1.6, 2.0, 2.2, 1.5, 1.9, 2.3, 1.8, 2.1, 1.6, 2.0, 2.4, 1.7, 1.9, 2.2, 1.5, 2.1, 1.8, 1.4, 2.0,
  2.1, 1.7, 2.4, 1.9, 1.6, 2.2, 2.0, 1.8, 2.3, 1.6, 2.1, 1.9, 1.7, 2.4, 1.8, 2.0, 1.5, 2.2, 1.9, 2.1, 1.7, 2.3, 1.8, 2.0, 1.6,
  2.0, 1.8, 2.2, 1.7, 2.3, 1.9, 2.1, 1.6, 2.4, 1.8, 2.0, 1.7, 2.2, 1.9, 2.6, 2.1, 1.8, 2.3, 1.7, 2.0, 1.5, 2.2, 1.9, 1.6, 2.1,
  2.0, 1.7, 2.2, 2.4, 1.8, 2.1, 1.9, 1.6, 2.3, 1.8, 2.0, 2.2, 1.7, 2.4, 1.9, 2.1, 1.8, 2.3, 2.0, 1.6, 1.9, 2.2, 1.7, 2.0, 2.4,
  1.9, 2.2, 1.8, 2.0, 1.6, 2.3, 2.1, 1.7, 2.0, 2.4, 1.8, 2.1, 1.9, 2.2, 1.6, 2.0, 2.3, 1.8, 2.1, 1.9, 2.5, 1.7, 2.0, 2.2, 2.4,
  2.1, 1.8, 2.4, 2.0, 1.9, 2.3, 1.7, 2.1, 2.5, 1.8, 2.2, 2.0, 2.6, 1.9, 2.1, 2.3, 1.7, 2.0, 2.2, 1.9, 2.5, 2.1, 1.8, 2.3, 2.0,
];

// límites (líneas discontinuas) en ohmios
const limitsControl = [4.7e5, 3.0e4];
const limitsCdt90 = [5.6e5, 9.0e3];
const limitsCdt105 = [1.0e6, 1.0e4];
const limitsCdt120 = [1.0e5, 6.3e2];

const SERIF = '"Liberation Serif", "Times New Roman", serif';
const SANS = '"Liberation Sans", Arial, sans-serif';

const panels = {
  pa: { tag: '(a)', sample: 'Sample: control', limits: limitsControl,
        hrs: [hrsControlOdd, hrsControlEven], lrs: [lrsControlOdd, lrsControlEven],
        color: '#ea2229', open: '#ea2a2e', shape: 'circle', rot: 0, rOpen: 4.4, rFill: 5.4,
        min: 8.1, max: 5.1e12, pad: { left: 96, top: 9, right: 22, bottom: 82 },
        tagAt: [6, 207], sampleAt: [5, 204], tickGap: 23 },
  pb: { tag: '(b)', sample: 'Sample: CDT-90', limits: limitsCdt90,
        hrs: [hrsCdt90Odd, hrsCdt90Even], lrs: [lrsCdt90Odd, lrsCdt90Even],
        color: '#2a5ba9', open: '#3163b3', shape: 'triangle', rot: 0, rOpen: 5.5, rFill: 6.2,
        min: 10, max: 4.5e12, pad: { left: 95, top: 12, right: 22, bottom: 81 },
        tagAt: [9, 221], sampleAt: [19, 209], tickGap: 25 },
  pc: { tag: '(c)', sample: 'Sample: CDT-105', limits: limitsCdt105,
        hrs: [hrsCdt105Odd, hrsCdt105Even], lrs: [lrsCdt105Odd, lrsCdt105Even],
        color: '#741b1f', open: '#85272b', shape: 'triangle', rot: 180, rOpen: 5.5, rFill: 6.2,
        min: 10.5, max: 4.7e12, pad: { left: 96, top: 9, right: 22, bottom: 84 },
        tagAt: [4, 207], sampleAt: [18, 207], tickGap: 25 },
  pd: { tag: '(d)', sample: 'Sample: CDT-120', limits: limitsCdt120,
        hrs: [hrsCdt120Odd, hrsCdt120Even], lrs: [lrsCdt120Odd, lrsCdt120Even],
        color: '#2f7f3b', open: '#3d9449', shape: 'rect', rot: 0, rOpen: 6.2, rFill: 6.8,
        min: 8.5, max: 4.9e12, pad: { left: 95, top: 11, right: 22, bottom: 81 },
        tagAt: [9, 234], sampleAt: [19, 235], tickGap: 25 },
};

// impares desde el ciclo 1, pares desde el ciclo 2
function toPoints([odd, even]) {
  const a = odd.map((v, i) => ({ x: 1 + 2 * i, y: Math.pow(10, v) }));
  const b = even.map((v, i) => ({ x: 2 + 2 * i, y: Math.pow(10, v) }));
  return a.concat(b);
}

const frame = {
  id: 'frame',
  beforeDatasetsDraw(chart) {
    const o = panels[chart.canvas.id];
    const { ctx, chartArea: a, scales: { y } } = chart;
    ctx.save();
    ctx.strokeStyle = '#9c9c9c';
    ctx.lineWidth = 1.5;
    ctx.setLineDash([9, 6]);
    o.limits.forEach((v) => {
      const py = Math.round(y.getPixelForValue(v)) + 0.5;
      ctx.beginPath(); ctx.moveTo(a.left, py); ctx.lineTo(a.right, py); ctx.stroke();
    });
    ctx.restore();
  },
  afterDraw(chart) {
    const o = panels[chart.canvas.id];
    const { ctx, chartArea: a, scales: { x, y } } = chart;
    ctx.save();
    ctx.strokeStyle = '#000';
    ctx.fillStyle = '#000';

    // marcas hacia dentro
    ctx.lineWidth = 2.2;
    cycleTicks.forEach((c) => {
      const px = x.getPixelForValue(c);
      ctx.beginPath(); ctx.moveTo(px, a.bottom); ctx.lineTo(px, a.bottom - 8); ctx.stroke();
    });
    decadeTicks.forEach((e) => {
      const py = y.getPixelForValue(Math.pow(10, e));
      ctx.beginPath(); ctx.moveTo(a.left, py); ctx.lineTo(a.left + 8, py); ctx.stroke();
    });
    ctx.lineWidth = 3;
    ctx.strokeRect(a.left, a.top, a.right - a.left, a.bottom - a.top);

    // etiquetas eje x
    ctx.font = 'bold 20px ' + SANS;
    ctx.textAlign = 'center';
    ctx.textBaseline = 'middle';
    cycleTicks.forEach((c) => ctx.fillText(String(c), x.getPixelForValue(c), a.bottom + o.tickGap));

    // etiquetas eje y: 10 con exponente
    decadeTicks.forEach((e) => {
      const py = y.getPixelForValue(Math.pow(10, e));
      const right = a.left - 11;
      ctx.textAlign = 'right';
      ctx.font = 'bold 12px ' + SANS;
      const supW = ctx.measureText(String(e)).width;
      ctx.fillText(String(e), right, py - 3);
      ctx.font = 'bold 20px ' + SANS;
      ctx.fillText('10', right - supW - 0.5, py + 0.5);
    });

    // títulos
    ctx.font = 'bold 29px ' + SERIF;
    ctx.textAlign = 'center';
    ctx.fillText('Cycles', (a.left + a.right) / 2, a.bottom + 66);
    ctx.save();
    ctx.translate(a.left - 72, (a.top + a.bottom) / 2);
    ctx.rotate(-Math.PI / 2);
    ctx.fillText('Resistance (\u03A9)', 0, 0);
    ctx.restore();

    // rótulos dentro del gráfico
    ctx.font = 'bold 36px ' + SERIF;
    ctx.textAlign = 'left';
    ctx.fillText(o.tag, a.left + o.tagAt[0], a.top + o.tagAt[1]);
    ctx.font = 'bold 22px ' + SERIF;
    ctx.textAlign = 'right';
    ctx.fillText(o.sample, a.right - o.sampleAt[0], a.top + o.sampleAt[1]);
    ctx.restore();
  },
};

Object.keys(panels).forEach((id) => {
  const o = panels[id];
  new Chart(document.getElementById(id), {
    type: 'scatter',
    data: {
      datasets: [
        {
          data: toPoints(o.hrs), clip: false,
          pointStyle: o.shape, pointRotation: o.rot, pointRadius: o.rOpen, pointBorderWidth: 1.6,
          pointBorderColor: o.open, pointBackgroundColor: 'rgba(0,0,0,0)',
        },
        {
          data: toPoints(o.lrs), clip: false,
          pointStyle: o.shape, pointRotation: o.rot, pointRadius: o.rFill, pointBorderWidth: 0,
          pointBorderColor: o.color, pointBackgroundColor: o.color,
        },
      ],
    },
    options: {
      responsive: false,
      animation: false,
      events: [],
      layout: { padding: o.pad },
      plugins: { legend: { display: false }, tooltip: { enabled: false } },
      scales: {
        x: { type: 'linear', min: 0, max: 400, display: false },
        y: { type: 'logarithmic', min: o.min, max: o.max, display: false },
      },
    },
    plugins: [frame],
  });
});
</script>
</body>
</html>
